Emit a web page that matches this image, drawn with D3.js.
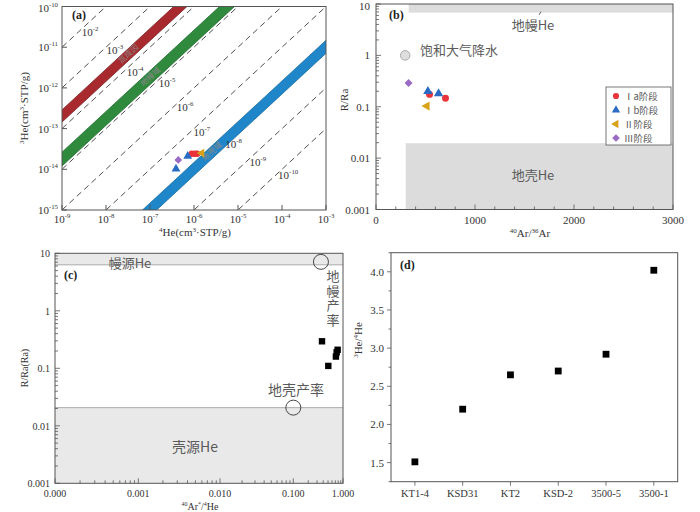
<!DOCTYPE html>
<html><head><meta charset="utf-8">
<script src="https://cdn.jsdelivr.net/npm/d3@7"></script>
<style>body{margin:0;background:#fff}svg{display:block}</style>
</head><body>
<svg id="chart" width="700" height="512"></svg>
<script>
// ---------------- DATA ----------------
// Panel (a): 3He/4He reference ratio lines (exponents) and bands
const ratioExps = [-2, -3, -4, -5, -6, -7, -8, -9, -10];
const ratioLabelLogX = [-8.36, -7.80, -7.34, -6.61, -6.20, -5.82, -5.10, -4.55, -3.86];
const bandNames = ["氚成因", "地幔域", "地壳域"];
const bandLowExp = [-3.84, -4.92, -8.15];
const bandHighExp = [-3.54, -4.58, -7.83];
const bandLabelLogX = [-7.45, -6.95, -5.55];
const stages = ["Ⅰa阶段", "Ⅰb阶段", "Ⅱ阶段", "Ⅲ阶段"];
// 4He and 3He (cm3 STP/g) per stage
const he4_Ia = [8.9e-7, 1.05e-6, 1.17e-6];
const he3_Ia = [2.4e-14, 2.4e-14, 2.4e-14];
const he4_Ib = [3.9e-7, 7.2e-7];
const he3_Ib = [1.02e-14, 2.1e-14];
const he4_II = [1.5e-6];
const he3_II = [2.5e-14];
const he4_III = [4.4e-7];
const he3_III = [1.7e-14];
// Panel (b): 40Ar/36Ar vs R/Ra
const ar_Ia = [541, 702];
const rra_Ia = [0.174, 0.147];
const ar_Ib = [524, 632];
const rra_Ib = [0.20, 0.18];
const ar_II = [514];
const rra_II = [0.103];
const ar_III = [329];
const rra_III = [0.29];
const asw = {ar: 295, rra: 1};
const mantleRange_b = [6.8, 10];
const crustRange_b = [0.001, 0.0195];
const bandArStart_b = [330, 300];
// Panel (c): 40Ar*/4He vs R/Ra
const arHe_c = [0.378, 0.506, 0.746, 0.78, 0.72];
const rra_c = [0.295, 0.11, 0.19, 0.21, 0.16];
const mantleRange_c = [6.3, 10];
const crustRange_c = [0.001, 0.0207];
const mantleYield = {x: 0.36, y: 7.1};
const crustYield = {x: 0.1, y: 0.0207};
const xTicks_c = [0.0001, 0.001, 0.01, 0.1, 1];
// Panel (d): 3He/4He by sample
const samples = ["KT1-4", "KSD31", "KT2", "KSD-2", "3500-5", "3500-1"];
const ratio_d = [1.51, 2.20, 2.65, 2.70, 2.92, 4.02];
const yTicks_d = [1.5, 2.0, 2.5, 3.0, 3.5, 4.0];

// ---------------- STYLE ----------------
const SERIF = "'Times New Roman','Liberation Serif','DejaVu Serif',serif";
const CJK = "'Noto Sans CJK SC','Noto Sans',sans-serif";
const FRAME = "#555";
const TXT = "#333";
const CJKTXT = "#5a5a5a";
const stageColor = ["#e8343a", "#2a6cc4", "#d9a21b", "#9a6bc4"];
const stageSym = [d3.symbolCircle, d3.symbolTriangle, d3.symbolTriangle, d3.symbolSquare];
const stageRot = [0, 0, -90, 45];
const bandFill = ["#a82a2e", "#2f8a3e", "#1f87c9"];
const bandStroke = ["#7a1c1f", "#1e6a2c", "#166aa0"];

const svg = d3.select("#chart");
svg.append("rect").attr("width", 700).attr("height", 512).attr("fill", "#fff");

function supText(g, x, y, base, exp, size, anchor) {
  const t = g.append("text").attr("x", x).attr("y", y).attr("font-family", SERIF)
    .attr("font-size", size).attr("fill", TXT).attr("text-anchor", anchor || "middle");
  t.append("tspan").text(base);
  t.append("tspan").attr("dy", -size * 0.45).attr("font-size", size * 0.62).text(exp);
  return t;
}
function symPath(type, size) { return d3.symbol().type(type).size(size)(); }
function drawStage(g, xs, ys, sx, sy, i, size) {
  xs.forEach((v, k) => {
    g.append("path").attr("d", symPath(stageSym[i], size))
      .attr("transform", `translate(${sx(v)},${sy(ys[k])}) rotate(${stageRot[i]})`)
      .attr("fill", stageColor[i]);
  });
}
function logTicksLeft(g, sy, x0, inward) {
  sy.ticks().forEach(v => {
    const e = Math.log10(v), major = Math.abs(e - Math.round(e)) < 1e-9;
    const len = major ? 5 : 3;
    g.append("line").attr("x1", x0).attr("x2", inward ? x0 + len : x0 - len)
      .attr("y1", sy(v)).attr("y2", sy(v)).attr("stroke", FRAME).attr("stroke-width", 0.8);
  });
}

// ================= PANEL (a) =================
const gA = svg.append("g");
const xA = d3.scaleLog().domain([1e-9, 1e-3]).range([62, 326]);
const yA = d3.scaleLog().domain([1e-15, 1e-10]).range([210, 6.5]);
svg.append("defs").append("clipPath").attr("id", "clipA").append("rect")
  .attr("x", 62).attr("y", 6.5).attr("width", 264).attr("height", 203.5);
const plotA = gA.append("g").attr("clip-path", "url(#clipA)");
ratioExps.forEach(e => {
  const r = Math.pow(10, e);
  plotA.append("line").attr("x1", xA(1e-12)).attr("y1", yA(r * 1e-12))
    .attr("x2", xA(1)).attr("y2", yA(r * 1))
    .attr("stroke", "#222").attr("stroke-width", 0.8).attr("stroke-dasharray", "6,4");
});
bandNames.forEach((n, i) => {
  const lo = Math.pow(10, bandLowExp[i]), hi = Math.pow(10, bandHighExp[i]);
  const pts = [[1e-12, lo * 1e-12], [1, lo], [1, hi], [1e-12, hi * 1e-12]];
  plotA.append("polygon").attr("points", pts.map(p => [xA(p[0]), yA(p[1])].join(",")).join(" "))
    .attr("fill", bandFill[i]).attr("stroke", bandStroke[i]).attr("stroke-width", 0.8);
});
const angA = -Math.atan((yA(1e-15) - yA(1e-14)) / (xA(1e-8) - xA(1e-9))) * 180 / Math.PI;
bandNames.forEach((n, i) => {
  const lx = Math.pow(10, bandLabelLogX[i]);
  const mid = Math.pow(10, (bandLowExp[i] + bandHighExp[i]) / 2);
  gA.append("text").attr("transform", `translate(${xA(lx)},${yA(lx * mid) + 3}) rotate(${angA})`)
    .attr("text-anchor", "middle").attr("font-family", CJK).attr("font-size", 8)
    .attr("fill", "#888").text(n);
});
ratioExps.forEach((e, i) => {
  const lx = Math.pow(10, ratioLabelLogX[i]);
  supText(gA, xA(lx), yA(lx * Math.pow(10, e)) + 15, "10", String(e), 11);
});
drawStage(gA, he4_Ia, he3_Ia, xA, yA, 0, 34);
drawStage(gA, he4_Ib, he3_Ib, xA, yA, 1, 34);
drawStage(gA, he4_II, he3_II, xA, yA, 2, 34);
drawStage(gA, he4_III, he3_III, xA, yA, 3, 30);
gA.append("rect").attr("x", 62).attr("y", 6.5).attr("width", 264).attr("height", 203.5)
  .attr("fill", "none").attr("stroke", FRAME).attr("stroke-width", 1);
d3.range(-9, -2).forEach(e => {
  const v = Math.pow(10, e);
  gA.append("line").attr("x1", xA(v)).attr("x2", xA(v)).attr("y1", 210).attr("y2", 205).attr("stroke", FRAME);
  supText(gA, xA(v), 223, "10", String(e), 11);
});
d3.range(-15, -9).forEach(e => {
  const v = Math.pow(10, e);
  gA.append("line").attr("x1", 62).attr("x2", 67).attr("y1", yA(v)).attr("y2", yA(v)).attr("stroke", FRAME);
  supText(gA, 58, Math.max(yA(v) + 4, 12), "10", String(e), 11, "end");
});
gA.append("text").attr("x", 72).attr("y", 19).attr("font-family", SERIF).attr("font-size", 12)
  .attr("font-weight", "bold").attr("fill", "#222").text("(a)");
{
  const t = gA.append("text").attr("x", 195).attr("y", 236).attr("text-anchor", "middle")
    .attr("font-family", SERIF).attr("font-size", 11).attr("fill", TXT);
  t.append("tspan").attr("font-size", 7).attr("dy", -4).text("4");
  t.append("tspan").attr("dy", 4).text("He(cm");
  t.append("tspan").attr("font-size", 7).attr("dy", -4).text("3");
  t.append("tspan").attr("dy", 4).text("·STP/g)");
  const t2 = gA.append("text").attr("transform", "translate(28,108) rotate(-90)").attr("text-anchor", "middle")
    .attr("font-family", SERIF).attr("font-size", 11).attr("fill", TXT);
  t2.append("tspan").attr("font-size", 7).attr("dy", -4).text("3");
  t2.append("tspan").attr("dy", 4).text("He(cm");
  t2.append("tspan").attr("font-size", 7).attr("dy", -4).text("3");
  t2.append("tspan").attr("dy", 4).text("·STP/g)");
}

// ================= PANEL (b) =================
const gB = svg.append("g");
const xB = d3.scaleLinear().domain([0, 3000]).range([376, 673]);
const yB = d3.scaleLog().domain([0.001, 10]).range([209.5, 4]);
gB.append("rect").attr("x", xB(bandArStart_b[0])).attr("y", yB(mantleRange_b[1]))
  .attr("width", xB(3000) - xB(bandArStart_b[0])).attr("height", yB(mantleRange_b[0]) - yB(mantleRange_b[1]))
  .attr("fill", "#dcdcdc");
gB.append("rect").attr("x", xB(bandArStart_b[1])).attr("y", yB(crustRange_b[1]))
  .attr("width", xB(3000) - xB(bandArStart_b[1])).attr("height", yB(crustRange_b[0]) - yB(crustRange_b[1]))
  .attr("fill", "#dcdcdc");
gB.append("line").attr("x1", 541).attr("y1", yB(mantleRange_b[0]) - 1).attr("x2", 539).attr("y2", 15)
  .attr("stroke", "#444").attr("stroke-width", 0.8);
gB.append("text").attr("x", 533).attr("y", 30).attr("text-anchor", "middle").attr("font-family", CJK)
  .attr("font-size", 13).attr("fill", CJKTXT).text("地幔He");
gB.append("text").attr("x", 533).attr("y", 180).attr("text-anchor", "middle").attr("font-family", CJK)
  .attr("font-size", 13).attr("fill", CJKTXT).text("地壳He");
gB.append("circle").attr("cx", xB(asw.ar)).attr("cy", yB(asw.rra)).attr("r", 4.8)
  .attr("fill", "#dedede").attr("stroke", "#999").attr("stroke-width", 0.8);
gB.append("text").attr("x", 420).attr("y", 55).attr("font-family", CJK)
  .attr("font-size", 13).attr("fill", CJKTXT).text("饱和大气降水");
drawStage(gB, ar_Ia, rra_Ia, xB, yB, 0, 38);
drawStage(gB, ar_Ib, rra_Ib, xB, yB, 1, 38);
drawStage(gB, ar_II, rra_II, xB, yB, 2, 38);
drawStage(gB, ar_III, rra_III, xB, yB, 3, 32);
gB.append("rect").attr("x", 376).attr("y", 4).attr("width", 297).attr("height", 205.5)
  .attr("fill", "none").attr("stroke", FRAME).attr("stroke-width", 1);
d3.range(0, 3001, 200).forEach(v => {
  const major = v % 1000 === 0;
  gB.append("line").attr("x1", xB(v)).attr("x2", xB(v)).attr("y1", 209.5).attr("y2", 209.5 - (major ? 5 : 3))
    .attr("stroke", FRAME).attr("stroke-width", 0.8);
  if (major) gB.append("text").attr("x", xB(v)).attr("y", 224).attr("text-anchor", "middle")
    .attr("font-family", SERIF).attr("font-size", 11).attr("fill", TXT).text(v);
});
logTicksLeft(gB, yB, 376, true);
[0.001, 0.01, 0.1, 1, 10].forEach(v => {
  gB.append("text").attr("x", 370).attr("y", Math.max(yB(v) + 4, 10)).attr("text-anchor", "end")
    .attr("font-family", SERIF).attr("font-size", 11).attr("fill", TXT).text(String(v));
});
gB.append("text").attr("x", 389).attr("y", 19).attr("font-family", SERIF).attr("font-size", 12)
  .attr("font-weight", "bold").attr("fill", "#222").text("(b)");
{
  const t = gB.append("text").attr("x", 530).attr("y", 237).attr("text-anchor", "middle")
    .attr("font-family", SERIF).attr("font-size", 11).attr("fill", TXT);
  t.append("tspan").attr("font-size", 7).attr("dy", -4).text("40");
  t.append("tspan").attr("dy", 4).text("Ar/");
  t.append("tspan").attr("font-size", 7).attr("dy", -4).text("36");
  t.append("tspan").attr("dy", 4).text("Ar");
  gB.append("text").attr("transform", "translate(348,100) rotate(-90)").attr("text-anchor", "middle")
    .attr("font-family", SERIF).attr("font-size", 11).attr("fill", TXT).text("R/Ra");
}
{
  const lg = gB.append("g");
  lg.append("rect").attr("x", 606).attr("y", 87).attr("width", 65).attr("height", 58)
    .attr("fill", "#fff").attr("stroke", "#555").attr("stroke-width", 0.8);
  stages.forEach((s, i) => {
    const y = 96 + i * 14;
    lg.append("path").attr("d", symPath(stageSym[i], 30))
      .attr("transform", `translate(616,${y}) rotate(${stageRot[i]})`).attr("fill", stageColor[i]);
    lg.append("text").attr("x", 624).attr("y", y + 3.6).attr("font-family", CJK)
      .attr("font-size", 9.5).attr("fill", CJKTXT).text(s);
  });
}

// ================= PANEL (c) =================
const gC = svg.append("g");
const xC = d3.scaleLog().domain(xTicks_c).range([55, 138.3, 220, 293.3, 343]);
const yC = d3.scaleLog().domain([0.001, 10]).range([483.3, 253.3]);
gC.append("rect").attr("x", 55).attr("y", yC(mantleRange_c[1])).attr("width", 288)
  .attr("height", yC(mantleRange_c[0]) - yC(mantleRange_c[1])).attr("fill", "#e9e9e9");
gC.append("rect").attr("x", 55).attr("y", yC(crustRange_c[1])).attr("width", 288)
  .attr("height", yC(crustRange_c[0]) - yC(crustRange_c[1])).attr("fill", "#e9e9e9");
gC.append("line").attr("x1", 55).attr("x2", 343).attr("y1", yC(mantleRange_c[0])).attr("y2", yC(mantleRange_c[0]))
  .attr("stroke", "#999").attr("stroke-width", 0.8);
gC.append("line").attr("x1", 55).attr("x2", 343).attr("y1", yC(crustRange_c[1])).attr("y2", yC(crustRange_c[1]))
  .attr("stroke", "#999").attr("stroke-width", 0.8);
gC.append("circle").attr("cx", xC(mantleYield.x)).attr("cy", yC(mantleYield.y)).attr("r", 7.5)
  .attr("fill", "none").attr("stroke", "#333").attr("stroke-width", 0.9);
gC.append("circle").attr("cx", xC(crustYield.x)).attr("cy", yC(crustYield.y)).attr("r", 7.5)
  .attr("fill", "none").attr("stroke", "#333").attr("stroke-width", 0.9);
gC.append("text").attr("x", 130).attr("y", 268).attr("text-anchor", "middle").attr("font-family", CJK)
  .attr("font-size", 13).attr("fill", CJKTXT).text("幔源He");
gC.append("text").attr("x", 195).attr("y", 452).attr("text-anchor", "middle").attr("font-family", CJK)
  .attr("font-size", 14).attr("fill", CJKTXT).text("壳源He");
gC.append("text").attr("x", 296).attr("y", 395).attr("text-anchor", "middle").attr("font-family", CJK)
  .attr("font-size", 14).attr("fill", CJKTXT).text("地壳产率");
gC.append("text").attr("x", 333).attr("y", 270).attr("font-family", CJK)
  .attr("font-size", 13).attr("fill", CJKTXT)
  .style("writing-mode", "vertical-rl").style("text-orientation", "upright")
  .attr("letter-spacing", 1.5).text("地幔产率");
arHe_c.forEach((v, i) => {
  gC.append("rect").attr("x", xC(v) - 3.2).attr("y", yC(rra_c[i]) - 3.2).attr("width", 6.4).attr("height", 6.4)
    .attr("fill", "#000");
});
gC.append("rect").attr("x", 55).attr("y", 253.3).attr("width", 288).attr("height", 230)
  .attr("fill", "none").attr("stroke", FRAME).attr("stroke-width", 1);
xC.ticks().forEach(v => {
  const e = Math.log10(v), major = Math.abs(e - Math.round(e)) < 1e-9;
  gC.append("line").attr("x1", xC(v)).attr("x2", xC(v)).attr("y1", 483.3).attr("y2", 483.3 - (major ? 5 : 3))
    .attr("stroke", FRAME).attr("stroke-width", 0.8);
});
xTicks_c.forEach(v => {
  gC.append("text").attr("x", xC(v)).attr("y", 497).attr("text-anchor", "middle")
    .attr("font-family", SERIF).attr("font-size", 10).attr("fill", TXT).text(d3.format(".3f")(v));
});
logTicksLeft(gC, yC, 55, true);
[0.001, 0.01, 0.1, 1, 10].forEach(v => {
  gC.append("text").attr("x", 50).attr("y", yC(v) + 4).attr("text-anchor", "end")
    .attr("font-family", SERIF).attr("font-size", 10).attr("fill", TXT).text(String(v));
});
gC.append("text").attr("x", 64).attr("y", 279).attr("font-family", SERIF).attr("font-size", 12)
  .attr("font-weight", "bold").attr("fill", "#222").text("(c)");
{
  const t = gC.append("text").attr("x", 200).attr("y", 510).attr("text-anchor", "middle")
    .attr("font-family", SERIF).attr("font-size", 10).attr("fill", TXT);
  t.append("tspan").attr("font-size", 6).attr("dy", -4).text("40");
  t.append("tspan").attr("dy", 4).text("Ar");
  t.append("tspan").attr("font-size", 6).attr("dy", -4).text("*");
  t.append("tspan").attr("dy", 4).text("/");
  t.append("tspan").attr("font-size", 6).attr("dy", -4).text("4");
  t.append("tspan").attr("dy", 4).text("He");
  gC.append("text").attr("transform", "translate(28,368) rotate(-90)").attr("text-anchor", "middle")
    .attr("font-family", SERIF).attr("font-size", 10).attr("fill", TXT).text("R/Ra(Ra)");
}

// ================= PANEL (d) =================
const gD = svg.append("g");
const xD = d3.scalePoint().domain(samples).range([391, 677.7]).padding(0.5);
const yD = d3.scaleLinear().domain([1.25, 4.25]).range([481.7, 252.7]);
samples.forEach((s, i) => {
  gD.append("rect").attr("x", xD(s) - 3.4).attr("y", yD(ratio_d[i]) - 3.4).attr("width", 6.8).attr("height", 6.8)
    .attr("fill", "#000");
});
gD.append("rect").attr("x", 391).attr("y", 252.7).attr("width", 286.7).attr("height", 229)
  .attr("fill", "none").attr("stroke", FRAME).attr("stroke-width", 1);
d3.range(1.25, 4.26, 0.25).forEach(v => {
  const major = Math.abs(v * 2 - Math.round(v * 2)) < 1e-9 && v >= 1.5;
  gD.append("line").attr("x1", 391).attr("x2", 391 - (major ? 4 : 2.5)).attr("y1", yD(v)).attr("y2", yD(v))
    .attr("stroke", FRAME).attr("stroke-width", 0.8);
});
yTicks_d.forEach(v => {
  gD.append("text").attr("x", 384).attr("y", yD(v) + 4).attr("text-anchor", "end")
    .attr("font-family", SERIF).attr("font-size", 11).attr("fill", TXT).text(d3.format(".1f")(v));
});
samples.forEach(s => {
  gD.append("line").attr("x1", xD(s)).attr("x2", xD(s)).attr("y1", 481.7).attr("y2", 485.7)
    .attr("stroke", FRAME).attr("stroke-width", 0.8);
  gD.append("text").attr("x", xD(s)).attr("y", 497).attr("text-anchor", "middle")
    .attr("font-family", SERIF).attr("font-size", 10.5).attr("fill", TXT).text(s);
});
gD.append("text").attr("x", 400).attr("y", 269).attr("font-family", SERIF).attr("font-size", 12)
  .attr("font-weight", "bold").attr("fill", "#222").text("(d)");
{
  const t = gD.append("text").attr("transform", "translate(362,340) rotate(-90)").attr("text-anchor", "middle")
    .attr("font-family", SERIF).attr("font-size", 11).attr("fill", TXT);
  t.append("tspan").attr("font-size", 7).attr("dy", -4).text("3");
  t.append("tspan").attr("dy", 4).text("He/");
  t.append("tspan").attr("font-size", 7).attr("dy", -4).text("4");
  t.append("tspan").attr("dy", 4).text("He");
}
</script>
</body></html>
